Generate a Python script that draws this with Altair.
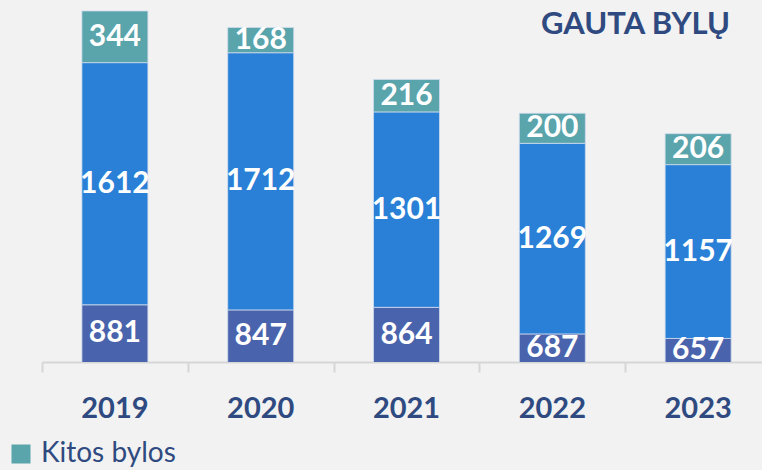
import altair as alt
import pandas as pd

# Received cases per year, stacked bottom-to-top
years = [2019, 2020, 2021, 2022, 2023]
series = ["Baudžiamosios bylos", "Civilinės bylos", "Kitos bylos"]
baudziamosios = [881, 847, 864, 687, 657]
civilines = [1612, 1712, 1301, 1269, 1157]
kitos = [344, 168, 216, 200, 206]
colors = ["#4a63ad", "#2a7fd6", "#5aa4ac"]
tick_positions = [2018.5, 2019.5, 2020.5, 2021.5, 2022.5]

NAVY = "#2f4a80"
FONT = "Lato"
Y_MIN, Y_MAX = 500, 2910

rows = []
for i, yr in enumerate(years):
    for k, (name, vals) in enumerate(zip(series, [baudziamosios, civilines, kitos])):
        rows.append({"metai": yr, "tipas": name, "eil": k, "kiekis": vals[i]})
df = pd.DataFrame(rows)

xscale = alt.Scale(domain=[2018.5, 2023.438], nice=False, zero=False, padding=0)
yscale = alt.Scale(domain=[Y_MIN, Y_MAX], nice=False, zero=False, padding=0)

base = alt.Chart(df).transform_stack(
    stack="kiekis",
    groupby=["metai"],
    as_=["y0", "y1"],
    sort=[alt.SortField("eil", order="ascending")],
).transform_calculate(
    mid=f"(max(datum.y0, {Y_MIN}) + datum.y1) / 2"
)

x_enc = alt.X(
    "metai:Q",
    scale=xscale,
    axis=alt.Axis(
        values=tick_positions,
        labels=False,
        title=None,
        grid=False,
        domainColor="#d6d6d6",
        domainWidth=2,
        tickColor="#d6d6d6",
        tickWidth=2,
        tickSize=10,
    ),
)

bars = base.mark_bar(size=66, clip=True, stroke="#cfdcee", strokeWidth=0.8).encode(
    x=x_enc,
    y=alt.Y("y0:Q", scale=yscale, axis=None),
    y2="y1:Q",
    color=alt.Color(
        "tipas:N",
        scale=alt.Scale(domain=series, range=colors),
        legend=alt.Legend(
            values=["Kitos bylos"],
            orient="none",
            legendX=-35,
            legendY=440,
            title=None,
            padding=0,
            symbolType="square",
            symbolSize=361,
            symbolStrokeWidth=0,
            symbolOpacity=1,
            labelFont=FONT,
            labelFontSize=28,
            labelColor=NAVY,
            labelOffset=6,
        ),
    ),
)

labels = base.mark_text(
    color="white", font=FONT, fontWeight="bold", fontSize=30, baseline="middle"
).encode(
    x=alt.X("metai:Q", scale=xscale),
    y=alt.Y("mid:Q", scale=yscale),
    text="kiekis:Q",
)

year_df = pd.DataFrame({"metai": years})
year_labels = alt.Chart(year_df).mark_text(
    color=NAVY, font=FONT, fontWeight="bold", fontSize=29, baseline="middle"
).encode(
    x=alt.X("metai:Q", scale=xscale),
    y=alt.value(409),
    text="metai:N",
)

title_df = pd.DataFrame({"t": ["GAUTA BYLŲ"]})
title = alt.Chart(title_df).mark_text(
    color=NAVY, font=FONT, fontWeight="bold", fontSize=31, align="right", baseline="middle"
).encode(
    x=alt.value(688),
    y=alt.value(25),
    text="t:N",
)

chart = alt.layer(bars, labels, year_labels, title).properties(
    width=720,
    height=362,
    autosize=alt.AutoSizeParams(type="none"),
    padding={"left": 42, "top": 0, "right": 0, "bottom": 108},
    background="#f2f2f2",
).configure_view(stroke=None)

chart.save("out.html", embed_options={"renderer": "svg", "actions": False})
